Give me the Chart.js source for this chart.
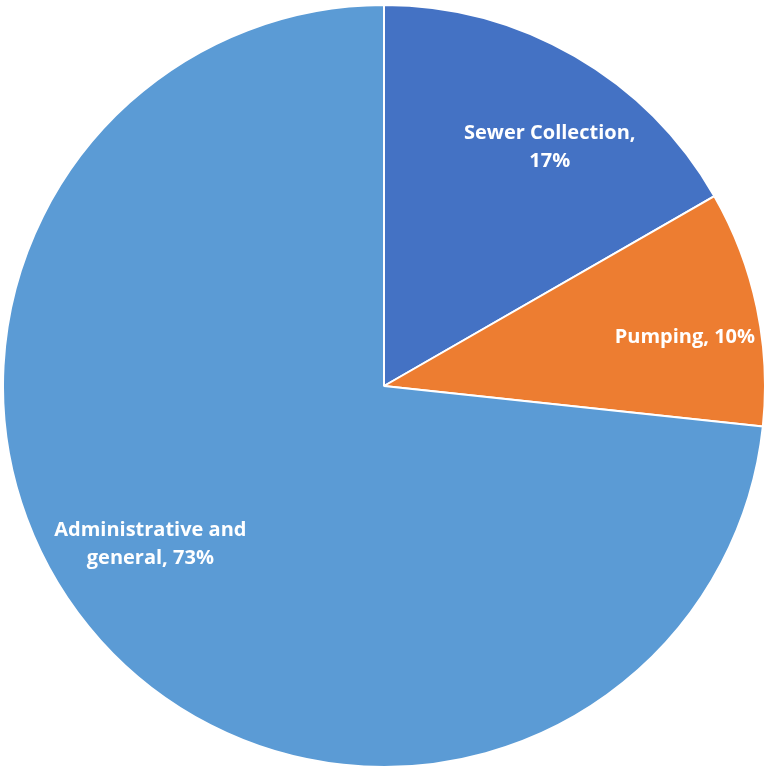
<!DOCTYPE html>
<html>
<head>
<meta charset="utf-8">
<script src="https://cdn.jsdelivr.net/npm/chart.js@4/dist/chart.umd.min.js"></script>
<style>
  html, body { margin: 0; padding: 0; background: #ffffff; }
  canvas { display: block; }
</style>
</head>
<body>
<canvas id="pie" width="766" height="769"></canvas>
<script>
// data
const categories = ['Sewer Collection', 'Pumping', 'Administrative and general'];
const shares = [16.7, 10.0, 73.3];
const sliceColors = ['#4472C4', '#ED7D31', '#5B9BD5'];

// label text split into lines, and where the label sits in its slice
const labelLines = [
  ['Sewer Collection,', '17%'],
  ['Pumping, 10%'],
  ['Administrative and', 'general, 73%']
];
const labelRadius = [0.763, 0.80, 0.741];
const labelShiftDeg = [4.7, 2.7, 7.8];

const sliceLabels = {
  id: 'sliceLabels',
  afterDatasetsDraw(chart) {
    const ctx = chart.ctx;
    const meta = chart.getDatasetMeta(0);
    ctx.save();
    ctx.fillStyle = '#ffffff';
    ctx.font = 'bold 20px "Open Sans"';
    ctx.textAlign = 'center';
    ctx.textBaseline = 'middle';
    meta.data.forEach(function (arc, i) {
      const p = arc.getProps(['x', 'y', 'startAngle', 'endAngle', 'outerRadius'], true);
      const mid = (p.startAngle + p.endAngle) / 2 + labelShiftDeg[i] * Math.PI / 180;
      const r = p.outerRadius * labelRadius[i];
      const cx = p.x + Math.cos(mid) * r;
      const cy = p.y + Math.sin(mid) * r;
      const lines = labelLines[i];
      const lh = 28.5;
      lines.forEach(function (t, k) {
        ctx.fillText(t, cx, cy + (k - (lines.length - 1) / 2) * lh);
      });
    });
    ctx.restore();
  }
};

new Chart(document.getElementById('pie').getContext('2d'), {
  type: 'pie',
  data: {
    labels: categories,
    datasets: [{
      data: shares,
      backgroundColor: sliceColors,
      borderColor: '#ffffff',
      borderWidth: 2
    }]
  },
  options: {
    responsive: false,
    animation: false,
    layout: { padding: { left: 2, top: 3, right: 0, bottom: 0 } },
    plugins: {
      legend: { display: false },
      tooltip: { enabled: false }
    }
  },
  plugins: [sliceLabels]
});
</script>
</body>
</html>
